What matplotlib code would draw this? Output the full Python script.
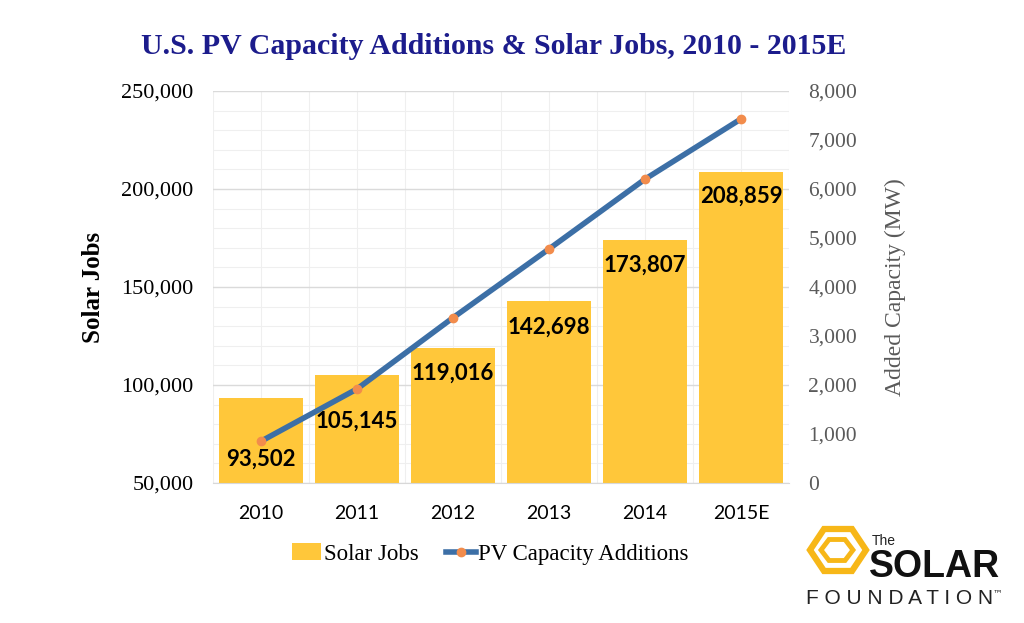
import numpy as np
import matplotlib.pyplot as plt
from matplotlib.patches import Polygon
from matplotlib.ticker import FuncFormatter, MultipleLocator

# data
years = ['2010', '2011', '2012', '2013', '2014', '2015E']
jobs = [93502, 105145, 119016, 142698, 173807, 208859]
capacity_mw = [852, 1919, 3373, 4776, 6201, 7430]

bar_col = '#FFC73A'
line_col = '#3C6FA6'
dot_col = '#F28C4C'
title_col = '#1C1C8C'
grey = '#5A5A5A'

fig = plt.figure(figsize=(10.24, 6.23), dpi=100)
W, H = 1024, 623

def px(x, y):
    return x / W, 1 - y / H

ax = fig.add_axes([213 / W, 1 - 483 / H, (789 - 213) / W, (483 - 91) / H])
x = np.arange(len(years))

ax.bar(x, jobs, width=0.885, color=bar_col, zorder=2, label='Solar Jobs')
ax.set_ylim(50000, 250000)
ax.set_xlim(-0.5, len(years) - 0.5)

# gridlines
ax.yaxis.set_major_locator(MultipleLocator(50000))
ax.yaxis.set_minor_locator(MultipleLocator(10000))
ax.grid(axis='y', which='major', color='#DADADA', lw=1.0, zorder=0)
ax.grid(axis='y', which='minor', color='#EFEFEF', lw=0.8, zorder=0)
for v in np.arange(-0.5, len(years), 0.5):
    ax.axvline(v, color='#EFEFEF', lw=0.8, zorder=0)
ax.tick_params(axis='y', which='both', length=0, pad=14)
ax.tick_params(axis='x', length=0, pad=16)
for s in ['top', 'right', 'left']:
    ax.spines[s].set_visible(False)
ax.spines['bottom'].set_color('#D8D8D8')

ax.yaxis.set_major_formatter(FuncFormatter(lambda v, p: f'{int(v):,}'))
for t in ax.get_yticklabels():
    t.set_fontfamily('Liberation Serif')
    t.set_fontsize(16)
ax.set_xticks(x)
ax.set_xticklabels(years, fontsize=14, fontfamily='Lato')
ax.set_ylabel('Solar Jobs', fontsize=18, fontweight='bold',
              fontfamily='Liberation Serif', labelpad=12)

# value labels
label_drop = [61, 46, 25, 26, 25, 25]
for i, v in enumerate(jobs):
    ax.annotate(f'{v:,}', (x[i], v), xytext=(0, -label_drop[i] * 0.72),
                textcoords='offset points', ha='center', va='center',
                fontsize=16, fontweight='bold', fontfamily='Lato', zorder=5)

# secondary axis
ax2 = ax.twinx()
ax2.set_ylim(0, 8000)
ax2.yaxis.set_major_locator(MultipleLocator(1000))
ax2.yaxis.set_major_formatter(FuncFormatter(lambda v, p: f'{int(v):,}'))
ax2.plot(x, capacity_mw, color=line_col, lw=4, zorder=3,
         marker='o', markersize=6, markerfacecolor=dot_col,
         markeredgecolor=dot_col, label='PV Capacity Additions')
ax2.tick_params(axis='y', length=0, pad=14, colors=grey, labelsize=15.5)
for t in ax2.get_yticklabels():
    t.set_fontfamily('Liberation Serif')
for s in ax2.spines.values():
    s.set_visible(False)
ax2.set_ylabel('Added Capacity (MW)', fontsize=17, color=grey,
               fontfamily='Liberation Serif', labelpad=20)

# legend
h1, l1 = ax.get_legend_handles_labels()
h2, l2 = ax2.get_legend_handles_labels()
fig.legend(h1 + h2, l1 + l2, loc='center', bbox_to_anchor=px(490, 554),
           ncol=2, frameon=False, handlelength=1.3, handletextpad=0.1,
           columnspacing=1.2, prop={'family': 'Liberation Serif', 'size': 16.5})

fig.text(*px(494, 46), 'U.S. PV Capacity Additions & Solar Jobs, 2010 - 2015E',
         ha='center', va='center', fontsize=21.5, fontweight='bold',
         color=title_col, fontfamily='Liberation Serif')

# logo
def hexagon(cx, cy, rx, ry):
    pts = [(cx - rx, cy), (cx - rx / 2, cy - ry), (cx + rx / 2, cy - ry),
           (cx + rx, cy), (cx + rx / 2, cy + ry), (cx - rx / 2, cy + ry)]
    return [px(a, b) for a, b in pts]

fig.patches.append(Polygon(hexagon(838, 550, 28, 21), closed=True, fill=False,
                           ec='#F7B718', lw=4.5, transform=fig.transFigure))
fig.patches.append(Polygon(hexagon(837, 550, 16, 10.5), closed=True, fill=False,
                           ec='#F7B718', lw=3.5, transform=fig.transFigure))
fig.text(*px(872, 541), 'The', fontsize=10, fontfamily='Liberation Sans',
         va='center', ha='left', color='#222222')
fig.text(*px(869, 567), 'SOLAR', fontsize=27, fontweight='heavy',
         fontfamily='Liberation Sans', va='center', ha='left', color='#111111')
fig.text(*px(806, 599), 'F O U N D A T I O N', fontsize=15, fontweight='light',
         fontfamily='Liberation Sans', va='center', ha='left', color='#222222')
fig.text(*px(993, 593), '™', fontsize=7, fontfamily='DejaVu Sans',
         va='center', ha='left', color='#222222')

fig.savefig('out.png', dpi=100, facecolor='white')
